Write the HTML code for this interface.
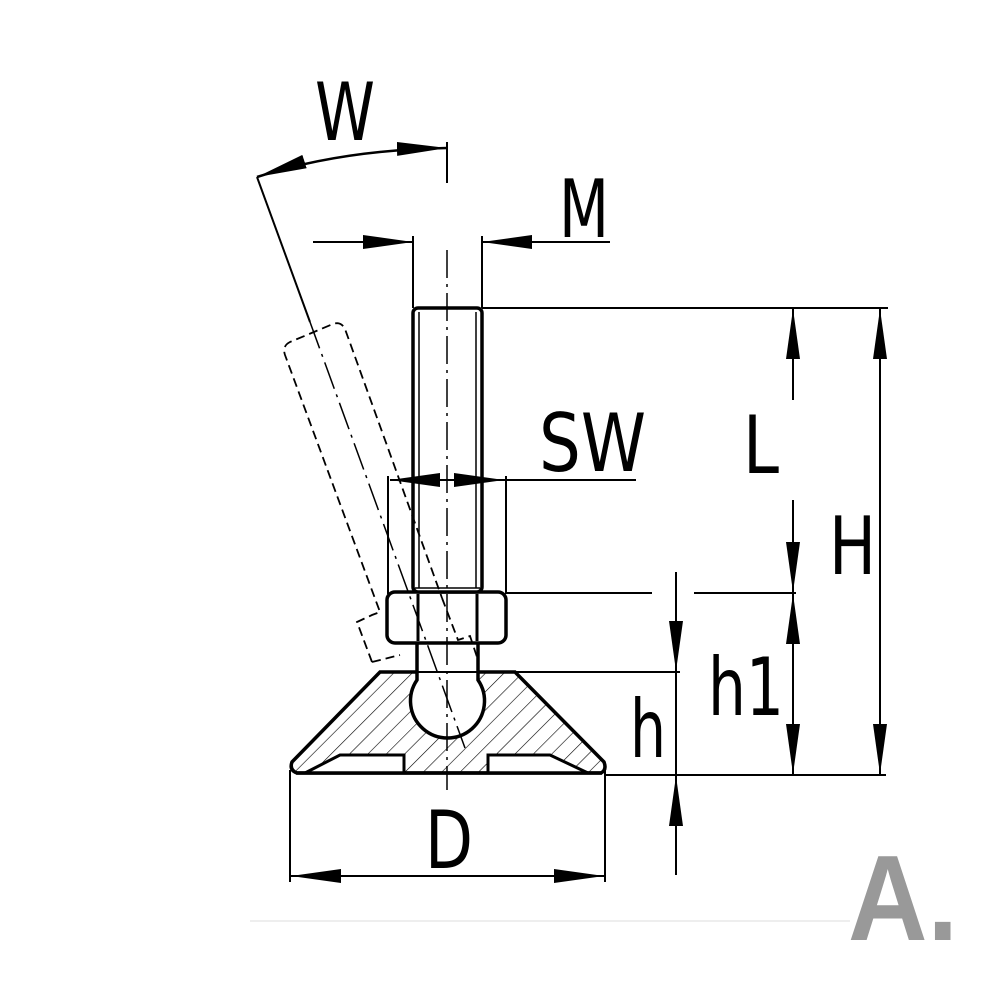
<!DOCTYPE html>
<html><head><meta charset="utf-8"><style>html,body{margin:0;padding:0;background:#fff}svg{display:block}</style></head>
<body>
<svg width="1000" height="1000" viewBox="0 0 1000 1000" xmlns="http://www.w3.org/2000/svg">
<defs>
<pattern id="hat" patternUnits="userSpaceOnUse" width="13" height="13" patternTransform="rotate(45)">
<rect width="13" height="13" fill="#fff"/><line x1="0" y1="0" x2="0" y2="13" stroke="#000" stroke-width="1.2"/>
</pattern>
<marker id="ar" viewBox="0 0 50 14" refX="50" refY="7" markerWidth="50" markerHeight="14" markerUnits="userSpaceOnUse" orient="auto-start-reverse">
<path d="M0,0 L50,7 L0,14 Z" fill="#000"/></marker>
</defs>
<g fill="none" stroke="#000">
<line x1="250" y1="921" x2="850" y2="921" stroke="#eee" stroke-width="2"/>

<path d="M297,773 L601,773 Q607,770 604,762 L515,672 L380,672 L292,762 Q289,770 297,773 Z" fill="url(#hat)" stroke-width="3.5"/>
<path d="M305,773 L340,755 L404,755 L404,773 Z" fill="#fff" stroke-width="3"/>
<path d="M488,773 L488,755 L550,755 L588,773 Z" fill="#fff" stroke-width="3"/>
<line x1="296" y1="773" x2="602" y2="773" stroke-width="3.5"/>
<path d="M417,643 L417,680 A37,37 0 1 0 478,680 L478,643" fill="#fff" stroke-width="3.5"/>
<line x1="410" y1="672" x2="485" y2="672" stroke-width="2"/>
<rect x="387" y="592" width="119" height="51" rx="8" fill="#fff" stroke-width="3.5"/>
<line x1="418" y1="594" x2="418" y2="641" stroke-width="3"/>
<line x1="477" y1="594" x2="477" y2="641" stroke-width="3"/>
<rect x="413" y="308" width="69" height="284" rx="5" fill="#fff" stroke-width="3.5"/>
<line x1="419" y1="312" x2="419" y2="588" stroke-width="1.5"/>
<line x1="476" y1="312" x2="476" y2="588" stroke-width="1.5"/>
<line x1="415" y1="588" x2="480" y2="588" stroke-width="1.5"/>

<line x1="447" y1="250" x2="447" y2="790" stroke-width="1.5" stroke-dasharray="28,6,3,6"/>
<line x1="257" y1="177" x2="310" y2="322" stroke-width="2"/>
<line x1="310" y1="322" x2="465" y2="748" stroke-width="1.5" stroke-dasharray="28,6,3,6"/>
<path d="M372,662 L357,622 L372,615 L380,612 L285,355 Q282,346 290,342 L333,324 Q341,321 345,329 L442,598" stroke-width="1.8" stroke-dasharray="9,5"/>
<path d="M442,598 L458,640 L470,636 L478,660" stroke-width="1.8" stroke-dasharray="9,5"/>
<path d="M372,662 L400,655" stroke-width="1.8" stroke-dasharray="9,5"/>

<line x1="447" y1="142" x2="447" y2="183" stroke-width="2"/>
<path d="M257,177 Q340,150 447,148" stroke-width="2.5" marker-start="url(#ar)" marker-end="url(#ar)"/>
<line x1="413" y1="236" x2="413" y2="308" stroke-width="2"/>
<line x1="482" y1="236" x2="482" y2="308" stroke-width="2"/>
<line x1="313" y1="242" x2="413" y2="242" stroke-width="2" marker-end="url(#ar)"/>
<line x1="610" y1="242" x2="482" y2="242" stroke-width="2" marker-end="url(#ar)"/>
<line x1="388" y1="476" x2="388" y2="594" stroke-width="2"/>
<line x1="506" y1="476" x2="506" y2="594" stroke-width="2"/>
<line x1="447" y1="480" x2="390" y2="480" stroke-width="2" marker-end="url(#ar)"/>
<line x1="447" y1="480" x2="504" y2="480" stroke-width="2" marker-end="url(#ar)"/>
<line x1="504" y1="480" x2="636" y2="480" stroke-width="2"/>
<line x1="482" y1="308" x2="888" y2="308" stroke-width="2"/>
<line x1="506" y1="593" x2="652" y2="593" stroke-width="2"/>
<line x1="694" y1="593" x2="796" y2="593" stroke-width="2"/>
<line x1="793" y1="400" x2="793" y2="309" stroke-width="2" marker-end="url(#ar)"/>
<line x1="793" y1="500" x2="793" y2="592" stroke-width="2" marker-end="url(#ar)"/>
<line x1="793" y1="680" x2="793" y2="594" stroke-width="2" marker-end="url(#ar)"/>
<line x1="793" y1="680" x2="793" y2="774" stroke-width="2" marker-end="url(#ar)"/>
<line x1="880" y1="540" x2="880" y2="309" stroke-width="2" marker-end="url(#ar)"/>
<line x1="880" y1="540" x2="880" y2="774" stroke-width="2" marker-end="url(#ar)"/>
<line x1="605" y1="775" x2="886" y2="775" stroke-width="2"/>
<line x1="515" y1="672" x2="680" y2="672" stroke-width="2"/>
<line x1="676" y1="572" x2="676" y2="671" stroke-width="2" marker-end="url(#ar)"/>
<line x1="676" y1="672" x2="676" y2="775" stroke-width="2"/>
<line x1="676" y1="875" x2="676" y2="776" stroke-width="2" marker-end="url(#ar)"/>
<line x1="290" y1="770" x2="290" y2="882" stroke-width="2"/>
<line x1="605" y1="770" x2="605" y2="882" stroke-width="2"/>
<line x1="447" y1="876" x2="291" y2="876" stroke-width="2" marker-end="url(#ar)"/>
<line x1="447" y1="876" x2="604" y2="876" stroke-width="2" marker-end="url(#ar)"/>
</g>
<g font-family="'DejaVu Sans','Liberation Sans',sans-serif" font-size="80" fill="#000">
<text x="315" y="140" textLength="60" lengthAdjust="spacingAndGlyphs">W</text>
<text x="559" y="237" textLength="50" lengthAdjust="spacingAndGlyphs">M</text>
<text x="539" y="471" textLength="107" lengthAdjust="spacingAndGlyphs">SW</text>
<text x="743" y="473" textLength="36" lengthAdjust="spacingAndGlyphs">L</text>
<text x="829" y="574" textLength="47" lengthAdjust="spacingAndGlyphs">H</text>
<text x="708" y="715" textLength="76" lengthAdjust="spacingAndGlyphs">h1</text>
<text x="630" y="757" textLength="36" lengthAdjust="spacingAndGlyphs">h</text>
<text x="425" y="868" textLength="48" lengthAdjust="spacingAndGlyphs">D</text>
</g>
<text x="848" y="940" font-family="'Liberation Sans',sans-serif" font-weight="bold" font-size="122" fill="#999" textLength="110" lengthAdjust="spacingAndGlyphs">A.</text>
</svg>
</body></html>
